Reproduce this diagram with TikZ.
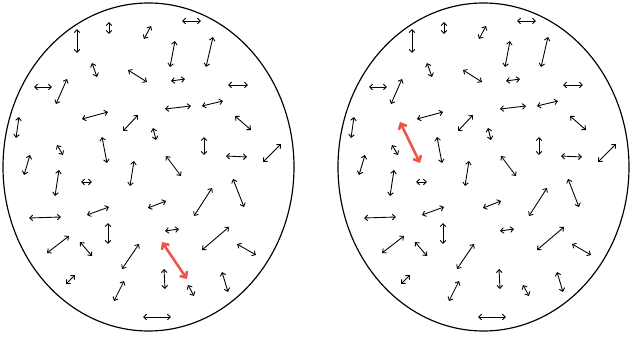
\documentclass[tikz,border=0pt]{standalone}
\usepackage{tikz}
\usetikzlibrary{arrows.meta}
\definecolor{moved}{RGB}{240,84,72}
% dipole ends x1/y1/x2/y2, in pixels of one panel
\newcommand{\dipoles}{77/29/77/53, 109/22/109/34, 151/26/144/39, 92/63/97/77,
  128/70/147/82, 34/87/52/87, 67/79/56/104, 82/119/108/112, 138/115/123/131,
  153/128/156/140, 19/117/16/138, 57/145/63/155, 102/137/107/163, 30/155/24/175,
  59/170/55/196, 134/161/130/186, 182/21/201/21, 175/41/170/67, 213/37/206/67,
  171/81/185/79, 228/85/248/85, 165/109/191/106, 202/106/223/101, 235/116/251/130,
  204/137/204/155, 226/156/247/157, 281/144/263/162, 166/156/181/176, 81/182/92/182,
  29/218/61/217, 87/215/109/207, 148/208/166/201, 108/223/108/244, 69/236/47/253,
  80/242/92/256, 139/244/122/269, 75/275/66/284, 124/281/114/301, 143/317/171/317,
  212/188/194/216, 233/179/244/207, 165/231/179/229, 229/227/202/250, 237/244/256/255,
  164/269/165/289, 188/285/194/296, 222/272/228/292}

\begin{document}
\begin{tikzpicture}[x=0.03cm, y=-0.03cm,
  >={Straight Barb[length=2.6pt, width=4.8pt]},
  dip/.style={<->, line width=0.75pt},
  hot/.style={<->, line width=2.2pt, draw=moved,
              >={Straight Barb[length=4pt, width=7.5pt]}},
  rim/.style={line width=1pt}]
  \useasboundingbox (0,0) rectangle (630,344);
  % two panels: same dipoles, the red one sits elsewhere
  \foreach \dx/\ax/\ay/\bx/\by in {0/162/242/187/279, 335/65/122/85/163}{
    \begin{scope}[shift={(\dx,0)}]
      \draw[rim] (148.5,167) ellipse[x radius=145.5, y radius=164];
      \foreach \a/\b/\c/\d in \dipoles
        \draw[dip] (\a,\b) -- (\c,\d);
      \draw[hot] (\ax,\ay) -- (\bx,\by);
    \end{scope}}
\end{tikzpicture}
\end{document}
